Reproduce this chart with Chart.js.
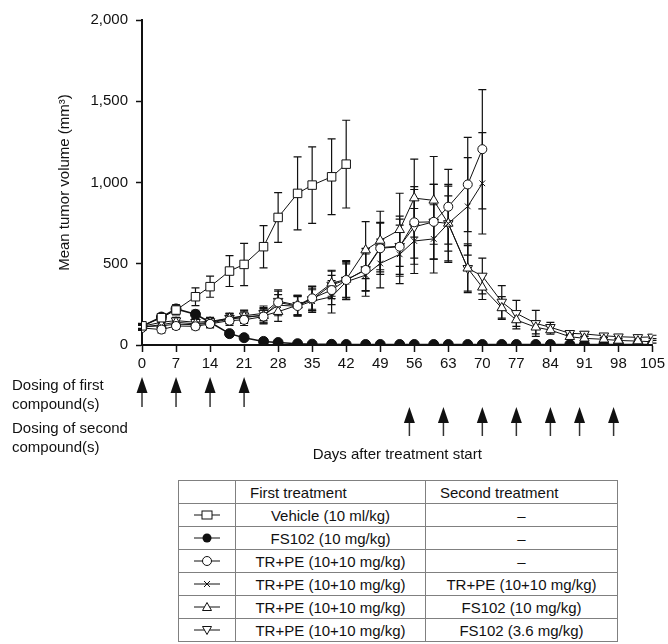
<!DOCTYPE html>
<html>
<head>
<meta charset="utf-8">
<script src="https://cdn.jsdelivr.net/npm/chart.js@4.4.1/dist/chart.umd.min.js"></script>
<style>
body { margin: 0; background: #fff; font-family: "Liberation Sans", Arial, sans-serif; color: #111; }
#wrap { position: relative; width: 668px; height: 644px; overflow: hidden; }
#chart { position: absolute; left: 0; top: 0; }
.dose { position: absolute; left: 12px; font-size: 15px; line-height: 18.5px; }
#legendTable { position: absolute; left: 178px; top: 480px; width: 439px; table-layout: fixed; border-collapse: collapse; font-size: 15px; }
#legendTable td { border: 1px solid #808080; padding: 0; text-align: center; height: 22px; white-space: nowrap; }
#legendTable tr.head td { text-align: left; padding-left: 14px; height: 22px; }
#legendTable td.sym { padding: 0; }
#legendTable td.sym svg { display: block; margin: 0 auto; }
</style>
</head>
<body>
<div id="wrap">
  <canvas id="chart" width="668" height="480"></canvas>
  <div class="dose" style="top:376px">Dosing of first<br>compound(s)</div>
  <div class="dose" style="top:419px">Dosing of second<br>compound(s)</div>
  <table id="legendTable">
    <colgroup><col style="width:57px"><col style="width:190px"><col style="width:192px"></colgroup>
    <tbody id="legendBody"></tbody>
  </table>
</div>
<script>
// measurement days (twice weekly)
const days = [0, 4, 7, 11, 14, 18, 21, 25, 28, 32, 35, 39, 42, 46, 49, 53, 56, 60, 63, 67, 70, 74, 77, 81, 84, 88, 91, 95, 98, 102, 105];

// mean tumour volume (mm3) and error bars
const vehicle = [118, 168, 215, 297, 359, 455, 496, 605, 785, 933, 984, 1035, 1113];
const vehicleErr = [15, 25, 30, 55, 65, 95, 130, 130, 153, 225, 235, 233, 270];

const fs102 = [115, 172, 222, 189, 140, 70, 45, 22, 15, 8, 5, 4, 3, 3, 3, 3, 3, 3, 3, 3, 3, 3, 3, 3, 3, 3, 3, 3, 3, 3, 3];
const fs102Err = [15, 20, 25, 25, 15, 10, 8, 5, 3, 2, 2, 1, 1, 1, 1, 1, 1, 1, 1, 1, 1, 1, 1, 1, 1, 1, 1, 1, 1, 1, 1];

const trpe = [105, 95, 117, 115, 130, 150, 155, 175, 262, 240, 287, 338, 400, 462, 595, 605, 755, 758, 851, 988, 1205];
const trpeErr = [15, 20, 20, 20, 25, 30, 35, 45, 70, 60, 75, 90, 110, 130, 160, 170, 220, 230, 230, 290, 367];

const trpeTrpe = [112, 118, 128, 125, 135, 160, 168, 185, 245, 238, 270, 297, 389, 430, 502, 558, 640, 653, 748, 853, 995];
const trpeTrpeErr = [15, 20, 20, 20, 25, 30, 35, 45, 65, 60, 70, 100, 110, 130, 150, 180, 200, 210, 240, 300, 312];

const trpeFs10 = [110, 125, 140, 130, 140, 165, 175, 180, 205, 245, 290, 380, 404, 584, 643, 709, 904, 890, 748, 472, 355, 228, 154, 109, 92, 51, 41, 35, 28, 24, 20];
const trpeFs10Err = [15, 20, 20, 20, 25, 30, 35, 45, 60, 60, 70, 80, 110, 175, 180, 225, 240, 270, 170, 150, 75, 70, 55, 40, 25, 15, 12, 10, 8, 8, 8];

const trpeFs36 = [115, 140, 150, 140, 145, 165, 180, 195, 270, 245, 280, 370, 400, 465, 600, 608, 727, 758, 748, 472, 425, 265, 195, 133, 109, 72, 68, 57, 51, 47, 50];
const trpeFs36Err = [15, 20, 20, 20, 25, 30, 35, 45, 70, 60, 70, 85, 120, 130, 150, 185, 230, 230, 230, 140, 110, 100, 80, 80, 30, 15, 15, 12, 10, 10, 10];

// dosing days (arrows under the axis)
const firstDosing = [0, 7, 14, 21];
const secondDosing = [55, 62, 70, 77, 84, 90, 97];

// legend table rows
const firstTreatment = ['Vehicle (10 ml/kg)', 'FS102 (10 mg/kg)', 'TR+PE (10+10 mg/kg)', 'TR+PE (10+10 mg/kg)', 'TR+PE (10+10 mg/kg)', 'TR+PE (10+10 mg/kg)'];
const secondTreatment = ['\u2013', '\u2013', '\u2013', 'TR+PE (10+10 mg/kg)', 'FS102 (10 mg/kg)', 'FS102 (3.6 mg/kg)'];

function toPoints(vals) {
    return vals.map((v, i) => ({ x: days[i], y: v }));
}

function makeSet(label, vals, errs, style, extra) {
    return Object.assign({
        label: label,
        data: toPoints(vals),
        errors: errs,
        borderColor: '#111',
        borderWidth: 1,
        pointStyle: style,
        pointBackgroundColor: '#fff',
        pointBorderColor: '#111',
        pointBorderWidth: 1,
        pointRadius: 4.5,
        tension: 0
    }, extra || {});
}

// vertical error bars with caps, drawn under the markers
const errorBars = {
    id: 'errorBars',
    beforeDatasetsDraw(chart) {
        const ctx = chart.ctx;
        const yScale = chart.scales.y;
        ctx.save();
        ctx.strokeStyle = '#111';
        ctx.lineWidth = 1.2;
        chart.data.datasets.forEach((ds, i) => {
            const meta = chart.getDatasetMeta(i);
            meta.data.forEach((pt, j) => {
                const v = ds.data[j].y;
                const e = ds.errors[j];
                if (!e || e < 4) return;
                const top = yScale.getPixelForValue(v + e);
                const bot = yScale.getPixelForValue(Math.max(v - e, 0));
                ctx.beginPath();
                ctx.moveTo(pt.x, top); ctx.lineTo(pt.x, bot);
                ctx.moveTo(pt.x - 4, top); ctx.lineTo(pt.x + 4, top);
                ctx.moveTo(pt.x - 4, bot); ctx.lineTo(pt.x + 4, bot);
                ctx.stroke();
            });
        });
        ctx.restore();
    }
};

// dosing arrows placed with the x scale
const dosingArrows = {
    id: 'dosingArrows',
    afterDraw(chart) {
        const ctx = chart.ctx;
        const xScale = chart.scales.x;
        function arrow(day, headTop, bottom) {
            const x = xScale.getPixelForValue(day);
            ctx.beginPath();
            ctx.strokeStyle = '#333';
            ctx.lineWidth = 1.5;
            ctx.moveTo(x, headTop + 10);
            ctx.lineTo(x, bottom);
            ctx.stroke();
            ctx.beginPath();
            ctx.fillStyle = '#111';
            ctx.moveTo(x, headTop);
            ctx.lineTo(x - 5.5, headTop + 16);
            ctx.lineTo(x + 5.5, headTop + 16);
            ctx.closePath();
            ctx.fill();
        }
        ctx.save();
        firstDosing.forEach(d => arrow(d, 377, 407));
        secondDosing.forEach(d => arrow(d, 407, 436));
        ctx.restore();
    }
};

const ctx = document.getElementById('chart').getContext('2d');

new Chart(ctx, {
    type: 'line',
    data: {
        datasets: [
            makeSet('Vehicle', vehicle, vehicleErr, 'rect', { pointRadius: 6 }),
            makeSet('TR+PE', trpe, trpeErr, 'circle'),
            makeSet('TR+PE / TR+PE', trpeTrpe, trpeTrpeErr, 'crossRot', { pointRadius: 4 }),
            makeSet('TR+PE / FS102 10', trpeFs10, trpeFs10Err, 'triangle', { pointRadius: 5.5 }),
            makeSet('TR+PE / FS102 3.6', trpeFs36, trpeFs36Err, 'triangle', { pointRadius: 5.5, pointRotation: 180 }),
            makeSet('FS102', fs102, fs102Err, 'circle', { pointBackgroundColor: '#111', pointRadius: 5, borderWidth: 1.5 })
        ]
    },
    options: {
        responsive: false,
        animation: false,
        locale: 'en-US',
        layout: { padding: { top: 20, right: 15, bottom: 0, left: 0 } },
        plugins: {
            legend: { display: false },
            tooltip: { enabled: false }
        },
        scales: {
            x: {
                type: 'linear',
                min: 0,
                max: 105,
                ticks: { stepSize: 7, color: '#111', font: { size: 15, family: '"Liberation Sans", Arial, sans-serif' }, padding: 3, maxRotation: 0 },
                grid: { drawOnChartArea: false, tickLength: 7, color: '#111', tickWidth: 1.5 },
                border: { color: '#111', width: 2 },
                title: {
                    display: true,
                    text: 'Days after treatment start',
                    color: '#111',
                    font: { size: 15, family: '"Liberation Sans", Arial, sans-serif' },
                    padding: { top: 0, bottom: 16 }
                },
                afterFit(scale) { scale.height = 135; }
            },
            y: {
                min: 0,
                max: 2000,
                ticks: { stepSize: 500, color: '#111', font: { size: 15, family: '"Liberation Sans", Arial, sans-serif' }, padding: 8 },
                grid: { drawOnChartArea: false, tickLength: 6, color: '#111', tickWidth: 1.5 },
                border: { color: '#111', width: 2 },
                title: {
                    display: true,
                    text: 'Mean tumor volume (mm\u00b3)',
                    color: '#111',
                    font: { size: 15, family: '"Liberation Sans", Arial, sans-serif' },
                    padding: { top: 56, bottom: 0 }
                },
                afterFit(scale) { scale.width = 142; }
            }
        }
    },
    plugins: [errorBars, dosingArrows]
});

// legend table
const symbols = [
    '<rect x="8" y="2" width="10" height="8" fill="#fff" stroke="#111"/>',
    '<circle cx="13" cy="6" r="4.5" fill="#111"/>',
    '<circle cx="13" cy="6" r="4.5" fill="#fff" stroke="#111"/>',
    '<path d="M10 3 L16 9 M16 3 L10 9" stroke="#111"/>',
    '<path d="M13 1.5 L17.5 9.5 L8.5 9.5 Z" fill="#fff" stroke="#111"/>',
    '<path d="M13 10.5 L17.5 2.5 L8.5 2.5 Z" fill="#fff" stroke="#111"/>'
];

let html = '<tr class="head"><td class="sym"></td><td>First treatment</td><td>Second treatment</td></tr>';
firstTreatment.forEach((t, i) => {
    html += '<tr><td class="sym"><svg width="26" height="12" viewBox="0 0 26 12">' +
        '<line x1="0" y1="6" x2="26" y2="6" stroke="#111" stroke-width="1"/>' + symbols[i] +
        '</svg></td><td>' + t + '</td><td>' + secondTreatment[i] + '</td></tr>';
});
document.getElementById('legendBody').innerHTML = html;
</script>
</body>
</html>
